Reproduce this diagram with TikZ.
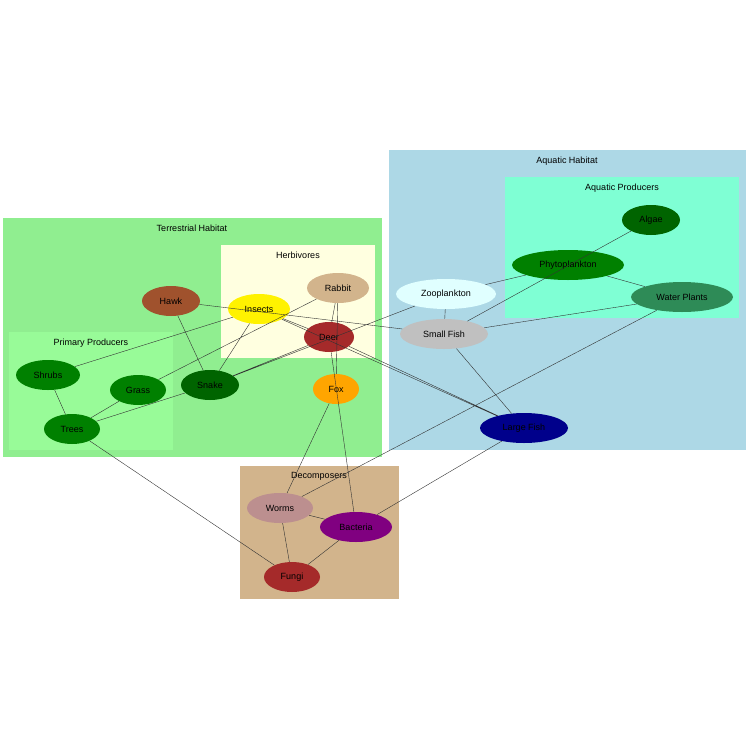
\documentclass[tikz,border=0pt]{standalone}
\usepackage{fontspec}
\setmainfont{Liberation Sans}
\usetikzlibrary{shapes.geometric}
\definecolor{sienna}{RGB}{160,82,45}
\definecolor{tanc}{RGB}{210,180,140}
\definecolor{brownc}{RGB}{165,42,42}
\definecolor{orangec}{RGB}{255,165,0}
\definecolor{greenc}{RGB}{0,128,0}
\definecolor{dgreen}{RGB}{0,100,0}
\definecolor{lcyan}{RGB}{224,255,255}
\definecolor{silverc}{RGB}{192,192,192}
\definecolor{seagreen}{RGB}{46,139,87}
\definecolor{dblue}{RGB}{0,0,139}
\definecolor{rosyb}{RGB}{188,143,143}
\definecolor{purplec}{RGB}{128,0,128}
\definecolor{lgreen}{RGB}{144,238,144}
\definecolor{lyellow}{RGB}{255,255,224}
\definecolor{pgreen}{RGB}{152,251,152}
\definecolor{lblue}{RGB}{173,216,230}
\definecolor{aquam}{RGB}{127,255,212}
\tikzset{org/.style={ellipse, inner sep=0pt, minimum height=30pt, font=\fontsize{9}{10}\selectfont},
  area/.style={font=\fontsize{9}{10}\selectfont, anchor=north}}

\begin{document}
\begin{tikzpicture}[x=1pt, y=-1pt]   % food web
    \useasboundingbox (0,0) rectangle (750,750);
    % habitats
    \fill[lgreen] (3,218) rectangle (382,457);
    \node[area] (terr) at (192,221) {Terrestrial Habitat};
    \fill[lyellow] (221,245) rectangle (375,358);
    \node[area] (herb) at (298,248) {Herbivores};
    \fill[pgreen] (9,332) rectangle (173,450);
    \node[area] (prim) at (91,335) {Primary Producers};
    \fill[lblue] (389,150) rectangle (746,450);
    \node[area] (aqua) at (567,153) {Aquatic Habitat};
    \fill[aquam] (505,177) rectangle (739,318);
    \node[area] (aprod) at (622,180) {Aquatic Producers};
    \fill[tanc] (240,466) rectangle (399,599);
    \node[area] (decomp) at (319,469) {Decomposers};

    \node[org, fill=sienna, minimum width=58pt] (hawk) at (171,301) {Hawk};
    \node[org, fill=yellow, minimum width=62pt] (insects) at (259,309) {Insects};
    \node[org, fill=tanc, minimum width=62pt] (rabbit) at (338,288) {Rabbit};
    \node[org, fill=brownc, minimum width=50pt] (deer) at (329,337) {Deer};
    \node[org, fill=orangec, minimum width=46pt] (fox) at (336,389) {Fox};
    \node[org, fill=greenc, minimum width=64pt] (shrubs) at (48,375) {Shrubs};
    \node[org, fill=greenc, minimum width=56pt] (grass) at (138,390) {Grass};
    \node[org, fill=dgreen, minimum width=58pt] (snake) at (210,385) {Snake};
    \node[org, fill=greenc, minimum width=56pt] (trees) at (72,429) {Trees};
    \node[org, fill=lcyan, minimum width=100pt] (zoo) at (446,294) {Zooplankton};
    \node[org, fill=silverc, minimum width=88pt] (sfish) at (444,334) {Small Fish};
    \node[org, fill=greenc, minimum width=112pt] (phyto) at (568,265) {Phytoplankton};
    \node[org, fill=dgreen, minimum width=58pt] (algae) at (651,220) {Algae};
    \node[org, fill=seagreen, minimum width=102pt] (wplants) at (682,297) {Water Plants};
    \node[org, fill=dblue, minimum width=88pt] (lfish) at (524,428) {Large Fish};
    \node[org, fill=rosyb, minimum width=66pt] (worms) at (280,508) {Worms};
    \node[org, fill=purplec, minimum width=72pt] (bact) at (356,527) {Bacteria};
    \node[org, fill=brownc, minimum width=56pt] (fungi) at (292,577) {Fungi};

    \draw[black!80] (hawk) -- (snake) (hawk) -- (sfish)
      (insects) -- (shrubs) (insects) -- (snake) (insects) -- (deer) (insects) -- (lfish)
      (rabbit) -- (grass) (rabbit) -- (deer) (rabbit) -- (fox)
      (deer) -- (snake) (zoo) -- (snake) (deer) -- (bact)
      (trees) -- (snake) (trees) -- (grass) (trees) -- (shrubs) (trees) -- (fungi)
      (fox) -- (worms) (worms) -- (wplants) (lfish) -- (bact)
      (worms) -- (bact) (worms) -- (fungi) (fungi) -- (bact)
      (zoo) -- (phyto) (zoo) -- (sfish) (sfish) -- (algae) (sfish) -- (wplants)
      (phyto) -- (wplants) (sfish) -- (lfish) (deer) -- (lfish);
\end{tikzpicture}
\end{document}
